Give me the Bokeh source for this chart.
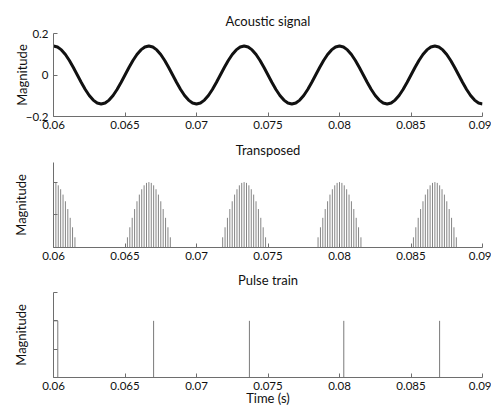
from bokeh.plotting import figure
from bokeh.layouts import column
from bokeh.models import Range1d, FixedTicker, CustomJSTickFormatter
from bokeh.embed import file_html
from bokeh.resources import INLINE

# ---------------- data ----------------
x_ticks = [0.06, 0.065, 0.07, 0.075, 0.08, 0.085, 0.09]
x_labels = ["0.06", "0.065", "0.07", "0.075", "0.08", "0.085", "0.09"]

# acoustic signal, sampled every 1/3600 s from 0.06 s
signal_start = 0.06
signal_step = 1 / 3600
signal_values = [
    0.140, 0.135, 0.121, 0.099, 0.070, 0.036, 0.000, -0.036, -0.070, -0.099, -0.121, -0.135,
    -0.140, -0.135, -0.121, -0.099, -0.070, -0.036, 0.000, 0.036, 0.070, 0.099, 0.121, 0.135,
    0.140, 0.135, 0.121, 0.099, 0.070, 0.036, 0.000, -0.036, -0.070, -0.099, -0.121, -0.135,
    -0.140, -0.135, -0.121, -0.099, -0.070, -0.036, 0.000, 0.036, 0.070, 0.099, 0.121, 0.135,
    0.140, 0.135, 0.121, 0.099, 0.070, 0.036, 0.000, -0.036, -0.070, -0.099, -0.121, -0.135,
    -0.140, -0.135, -0.121, -0.099, -0.070, -0.036, 0.000, 0.036, 0.070, 0.099, 0.121, 0.135,
    0.140, 0.135, 0.121, 0.099, 0.070, 0.036, 0.000, -0.036, -0.070, -0.099, -0.121, -0.135,
    -0.140, -0.135, -0.121, -0.099, -0.070, -0.036, 0.000, 0.036, 0.070, 0.099, 0.121, 0.135,
    0.140, 0.135, 0.121, 0.099, 0.070, 0.036, 0.000, -0.036, -0.070, -0.099, -0.121, -0.135,
    -0.140,
]
signal_times = [signal_start + k * signal_step for k in range(len(signal_values))]

# transposed: stems around each envelope peak
hump_peaks = [0.06, 0.06667, 0.07333, 0.08, 0.08667]
stem_offsets_ms = [-1.500, -1.333, -1.167, -1.000, -0.833, -0.667, -0.500, -0.333, -0.167, 0.0,
                   0.167, 0.333, 0.500, 0.667, 0.833, 1.000, 1.167, 1.333, 1.500]
stem_heights = [0.156, 0.309, 0.454, 0.588, 0.707, 0.809, 0.891, 0.951, 0.988, 1.000,
                0.988, 0.951, 0.891, 0.809, 0.707, 0.588, 0.454, 0.309, 0.156]

# pulse train
pulse_times = [0.0603, 0.0670, 0.0737, 0.0803, 0.0870]
pulse_height = 1.0

AX = "#6e6e6e"
FONT = "Lato"


def base_fig(h, top, bottom, title, y_range):
    p = figure(width=491, height=h, output_backend="svg", toolbar_location=None,
               x_range=Range1d(0.06, 0.09), y_range=y_range)
    p.min_border_left = 53
    p.min_border_right = 9
    p.min_border_top = top
    p.min_border_bottom = bottom
    p.outline_line_color = None
    p.grid.visible = False
    p.background_fill_color = "white"
    p.border_fill_color = "white"
    p.title.text = title
    p.title.align = "center"
    p.title.text_font = FONT
    p.title.text_font_size = "13px"
    p.title.text_font_style = "normal"
    p.title.text_color = "#111111"
    p.title.standoff = 9
    for ax in (p.xaxis[0], p.yaxis[0]):
        ax.axis_line_color = AX
        ax.major_tick_line_color = AX
        ax.major_tick_in = 4
        ax.major_tick_out = 0
        ax.minor_tick_line_color = None
        ax.major_label_text_font = FONT
        ax.major_label_text_font_size = "11.5px"
        ax.major_label_text_color = "#111111"
        ax.axis_label_text_font = FONT
        ax.axis_label_text_font_size = "13px"
        ax.axis_label_text_font_style = "normal"
        ax.axis_label_text_color = "#111111"
    p.xaxis.ticker = FixedTicker(ticks=x_ticks)
    p.xaxis.major_label_overrides = dict(zip(x_ticks, x_labels))
    p.xaxis.major_label_standoff = 4
    p.yaxis.axis_label = "Magnitude"
    return p


# panel 1  (135 = 33 + 83 + 19)
p1 = base_fig(135, 33, 19, "Acoustic signal", Range1d(-0.2, 0.2))
y1_ticks = [-0.2, 0, 0.2]
y1_labels = ["\u22120.2", "0", "0.2"]
p1.yaxis.ticker = FixedTicker(ticks=y1_ticks)
p1.yaxis.major_label_overrides = dict(zip(y1_ticks, y1_labels))
p1.yaxis.major_label_standoff = 5
p1.yaxis.axis_label_standoff = -7
p1.line(signal_times, signal_values, line_color="#111111", line_width=3)

# panel 2  (130 = 27 + 85 + 18)
p2 = base_fig(130, 27, 18, "Transposed", Range1d(0, 1.3))
p2.yaxis.ticker = FixedTicker(ticks=[0, 0.5, 1])
p2.yaxis.formatter = CustomJSTickFormatter(code="return ''")
p2.yaxis.major_label_standoff = 0
p2.yaxis.axis_label_standoff = 25
st_x, st_h = [], []
for pk in hump_peaks:
    for off, h in zip(stem_offsets_ms, stem_heights):
        t = pk + off / 1000
        if 0.06 - 1e-9 <= t <= 0.09:
            st_x.append(t)
            st_h.append(h)
p2.segment(x0=st_x, y0=[0] * len(st_x), x1=st_x, y1=st_h, line_color="#858585", line_width=1)

# panel 3  (147 = 27 + 85 + 35)
p3 = base_fig(147, 27, 35, "Pulse train", Range1d(0, 1.5))
p3.yaxis.ticker = FixedTicker(ticks=[0, 0.5, 1, 1.5])
p3.yaxis.formatter = CustomJSTickFormatter(code="return ''")
p3.yaxis.major_label_standoff = 0
p3.yaxis.axis_label_standoff = 25
p3.xaxis.axis_label = "Time (s)"
p3.xaxis.axis_label_standoff = -3
p3.segment(x0=pulse_times, y0=[0] * len(pulse_times), x1=pulse_times,
           y1=[pulse_height] * len(pulse_times), line_color="#7a7a7a", line_width=1)
p3.segment(x0=[0.06], y0=[pulse_height], x1=[pulse_times[0]], y1=[pulse_height],
           line_color="#7a7a7a", line_width=1)

layout = column(p1, p2, p3, spacing=0)
open("out.html", "w").write(file_html(layout, INLINE))
